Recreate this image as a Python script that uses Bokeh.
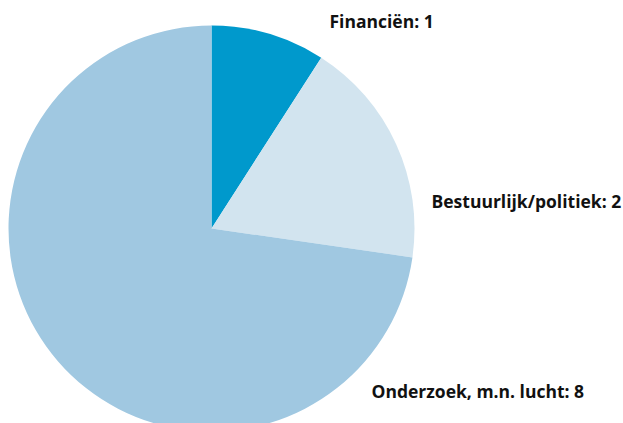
import numpy as np
from bokeh.plotting import figure
from bokeh.models import Range1d, ColumnDataSource
from bokeh.core.properties import value
from bokeh.embed import file_html
from bokeh.resources import INLINE

categories = ["Financiën", "Bestuurlijk/politiek", "Onderzoek, m.n. lucht"]
counts = [1, 2, 8]
colors = ["#0099CC", "#D2E4EF", "#A0C8E1"]

W, H = 623, 423
p = figure(width=W, height=H, output_backend="svg", toolbar_location=None,
           x_range=Range1d(0, W), y_range=Range1d(0, H), min_border=0)
p.axis.visible = False
p.grid.visible = False
p.outline_line_color = None
p.background_fill_color = "white"
p.border_fill_color = "white"

total = sum(counts)
fr = np.cumsum([0] + counts) / total
start = np.pi / 2 - fr[1:] * 2 * np.pi
end = np.pi / 2 - fr[:-1] * 2 * np.pi
cx, cy, r = 211, H - 228, 203
src = ColumnDataSource(dict(start=start, end=end, color=colors))
p.wedge(x=cx, y=cy, radius=r, start_angle="start", end_angle="end",
        fill_color="color", line_color=None, source=src)

labels = [f"{c}: {v}" for c, v in zip(categories, counts)]
lx = [329, 431, 371]
ly = [H - 20, H - 200, H - 390]
p.text(x=lx, y=ly, text=labels, text_font=value("Open Sans"), text_font_style="bold",
       text_font_size="17.5px", text_color="#111111", text_baseline="middle", text_align="left")

open("out.html", "w").write(file_html(p, INLINE))
